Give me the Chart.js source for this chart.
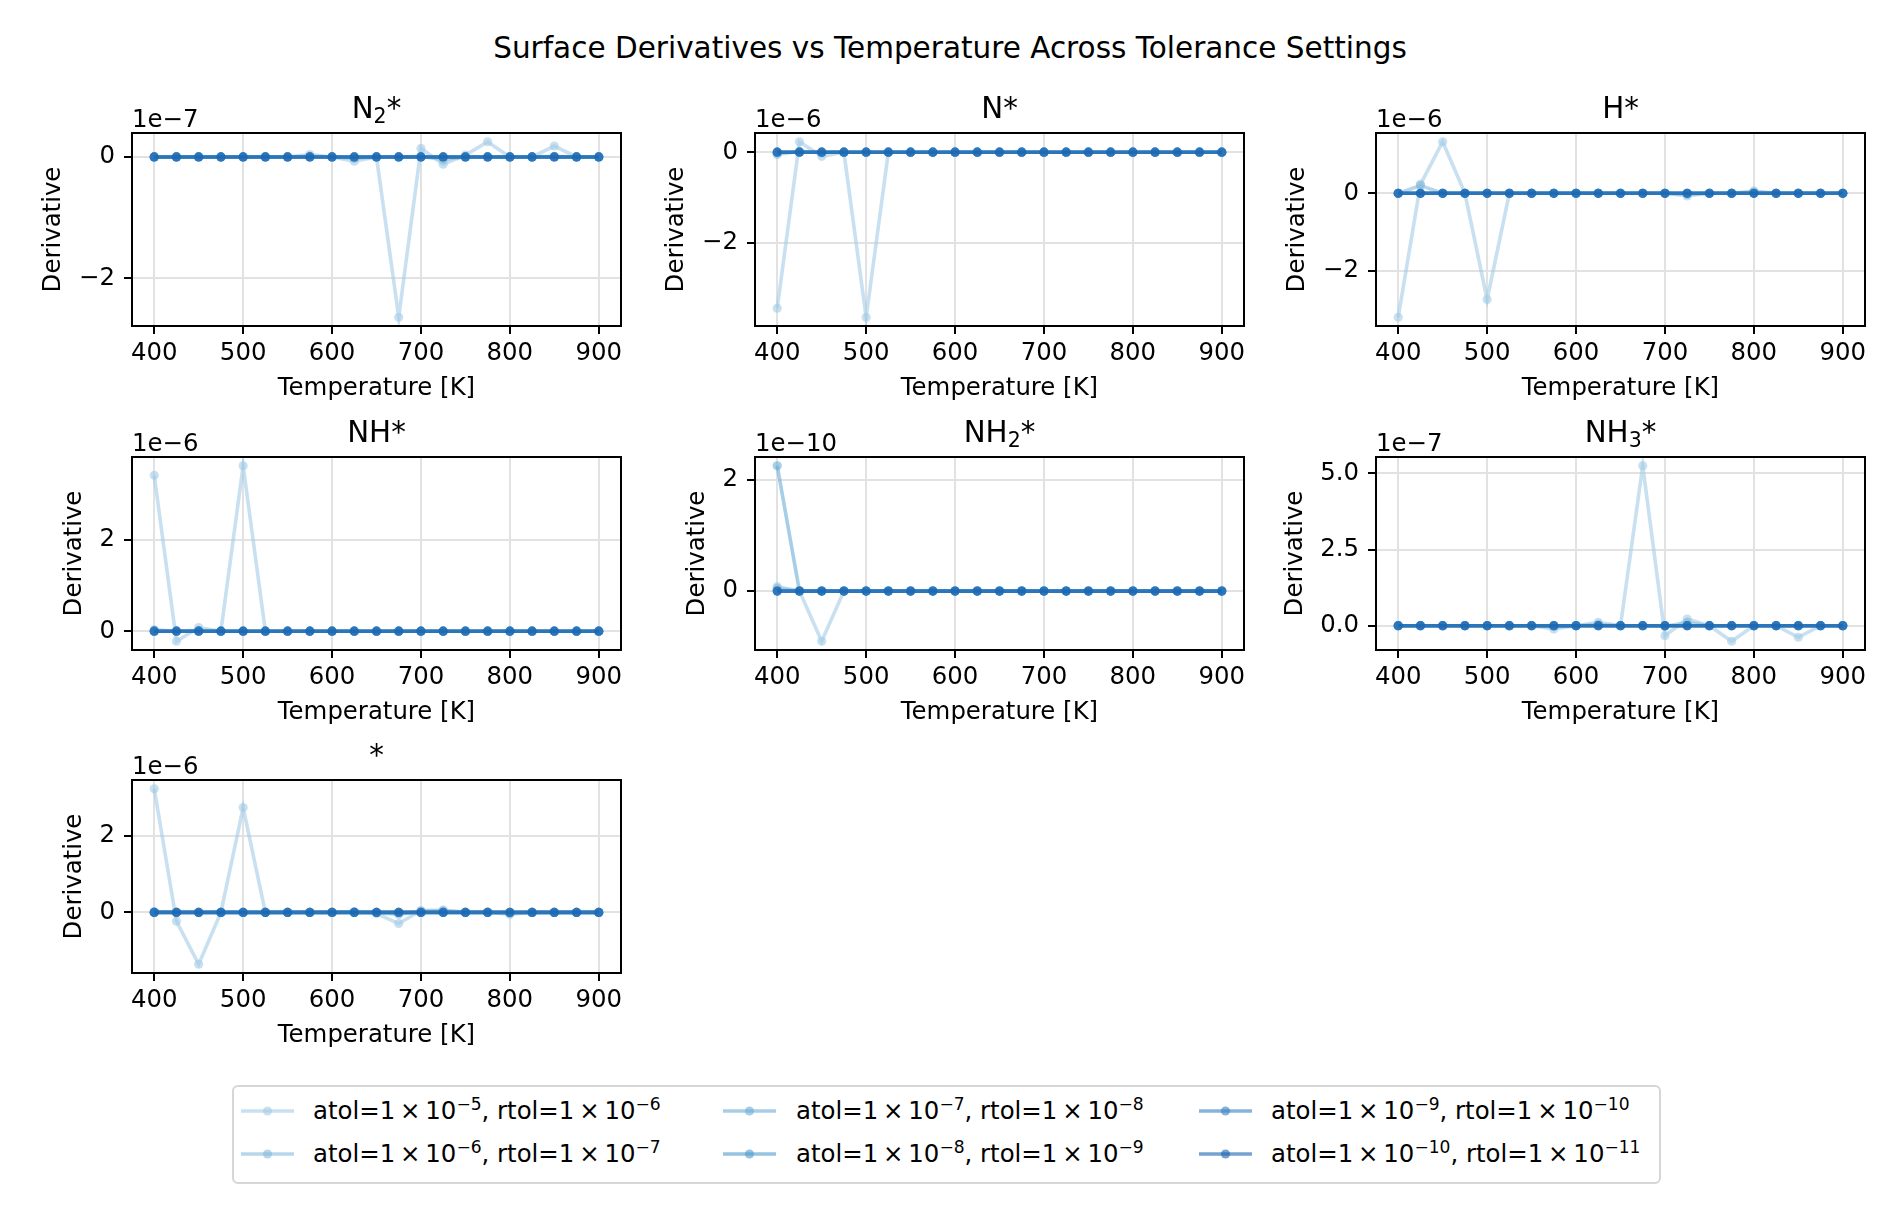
<!DOCTYPE html>
<html>
<head>
<meta charset="utf-8">
<script src="https://cdn.jsdelivr.net/npm/chart.js@4.4.0/dist/chart.umd.min.js"></script>
<style>
  body { margin: 0; background: #fff; width: 1890px; height: 1215px; position: relative; overflow: hidden; font-family: "DejaVu Sans"; }
  canvas { position: absolute; }
  #suptitle { position: absolute; left: 5px; top: 31px; width: 1890px; text-align: center; font-size: 29.5px; line-height: 34px; color: #000; }
  #legend { position: absolute; left: 232px; top: 1085px; width: 1425px; height: 95px; border: 2px solid #d6d6d6; border-radius: 6px; }
  .item { position: absolute; height: 30px; line-height: 30px; font-size: 24.4px; white-space: nowrap; color: #000; }
  .item svg { position: absolute; left: 0; top: 0; }
  .item span { position: absolute; top: 0; }
  sup { font-size: 0.7em; vertical-align: baseline; position: relative; top: -0.55em; line-height: 0; }
</style>
</head>
<body>
<div id="suptitle">Surface Derivatives vs Temperature Across Tolerance Settings</div>
<div id="legend"></div>
<script>
// temperatures [K]
const temps = [400, 425, 450, 475, 500, 525, 550, 575, 600, 625, 650, 675, 700, 725, 750, 775, 800, 825, 850, 875, 900];
const xTicks = [400, 500, 600, 700, 800, 900];

// legend labels, loosest to tightest tolerance
const tolLabels = [
  "atol=1\u2009×\u200910<sup>−5</sup>, rtol=1\u2009×\u200910<sup>−6</sup>",
  "atol=1\u2009×\u200910<sup>−6</sup>, rtol=1\u2009×\u200910<sup>−7</sup>",
  "atol=1\u2009×\u200910<sup>−7</sup>, rtol=1\u2009×\u200910<sup>−8</sup>",
  "atol=1\u2009×\u200910<sup>−8</sup>, rtol=1\u2009×\u200910<sup>−9</sup>",
  "atol=1\u2009×\u200910<sup>−9</sup>, rtol=1\u2009×\u200910<sup>−10</sup>",
  "atol=1\u2009×\u200910<sup>−10</sup>, rtol=1\u2009×\u200910<sup>−11</sup>"
];

// derivative values, in units of each panel's offset (1e-7, 1e-6, ...)
const n2Star = [
  [0, 0, 0, 0, 0, 0, 0, 0.04, 0, -0.07, 0, -2.64, 0.14, -0.12, 0.03, 0.25, 0, 0, 0.18, 0, 0],
  [0, 0, 0, 0, 0, 0, 0, 0.01, 0, -0.02, 0, 0, 0.01, -0.04, 0, 0, 0, 0, 0.01, 0, 0],
  [0, 0, 0, 0, 0, 0, 0, 0, 0, 0, 0, 0, 0, 0, 0, 0, 0, 0, 0, 0, 0],
  [0, 0, 0, 0, 0, 0, 0, 0, 0, 0, 0, 0, 0, 0, 0, 0, 0, 0, 0, 0, 0],
  [0, 0, 0, 0, 0, 0, 0, 0, 0, 0, 0, 0, 0, 0, 0, 0, 0, 0, 0, 0, 0],
  [0, 0, 0, 0, 0, 0, 0, 0, 0, 0, 0, 0, 0, 0, 0, 0, 0, 0, 0, 0, 0]
];
const nStar = [
  [-3.44, 0.23, -0.09, 0, -3.64, 0, 0, 0, 0, 0, 0, 0, 0, 0, 0, 0, 0, 0, 0, 0, 0],
  [-0.05, 0.02, 0, 0, 0, 0, 0, 0, 0, 0, 0, 0, 0, 0, 0, 0, 0, 0, 0, 0, 0],
  [0, 0, 0, 0, 0, 0, 0, 0, 0, 0, 0, 0, 0, 0, 0, 0, 0, 0, 0, 0, 0],
  [0, 0, 0, 0, 0, 0, 0, 0, 0, 0, 0, 0, 0, 0, 0, 0, 0, 0, 0, 0, 0],
  [0, 0, 0, 0, 0, 0, 0, 0, 0, 0, 0, 0, 0, 0, 0, 0, 0, 0, 0, 0, 0],
  [0, 0, 0, 0, 0, 0, 0, 0, 0, 0, 0, 0, 0, 0, 0, 0, 0, 0, 0, 0, 0]
];
const hStar = [
  [-3.2, 0.23, 1.33, 0, -2.74, 0, 0, 0, 0, 0, 0, 0, 0, -0.07, 0, 0, 0.06, 0, 0, 0, 0],
  [0, 0.2, 0, 0, 0, 0, 0, 0, 0, 0, 0, 0, 0, -0.03, 0, 0, 0.03, 0, 0, 0, 0],
  [0, 0, 0, 0, 0, 0, 0, 0, 0, 0, 0, 0, 0, 0, 0, 0, 0, 0, 0, 0, 0],
  [0, 0, 0, 0, 0, 0, 0, 0, 0, 0, 0, 0, 0, 0, 0, 0, 0, 0, 0, 0, 0],
  [0, 0, 0, 0, 0, 0, 0, 0, 0, 0, 0, 0, 0, 0, 0, 0, 0, 0, 0, 0, 0],
  [0, 0, 0, 0, 0, 0, 0, 0, 0, 0, 0, 0, 0, 0, 0, 0, 0, 0, 0, 0, 0]
];
const nhStar = [
  [3.42, -0.22, 0.08, 0, 3.63, 0, 0, 0, 0, 0, 0, 0, 0, 0, 0, 0, 0, 0, 0, 0, 0],
  [0.03, 0, 0.02, 0, 0, 0, 0, 0, 0, 0, 0, 0, 0, 0, 0, 0, 0, 0, 0, 0, 0],
  [0, 0, 0, 0, 0, 0, 0, 0, 0, 0, 0, 0, 0, 0, 0, 0, 0, 0, 0, 0, 0],
  [0, 0, 0, 0, 0, 0, 0, 0, 0, 0, 0, 0, 0, 0, 0, 0, 0, 0, 0, 0, 0],
  [0, 0, 0, 0, 0, 0, 0, 0, 0, 0, 0, 0, 0, 0, 0, 0, 0, 0, 0, 0, 0],
  [0, 0, 0, 0, 0, 0, 0, 0, 0, 0, 0, 0, 0, 0, 0, 0, 0, 0, 0, 0, 0]
];
const nh2Star = [
  [0.08, 0, -0.9, 0, 0, 0, 0, 0, 0, 0, 0, 0, 0, 0, 0, 0, 0, 0, 0, 0, 0],
  [0.05, 0, 0, 0, 0, 0, 0, 0, 0, 0, 0, 0, 0, 0, 0, 0, 0, 0, 0, 0, 0],
  [2.25, 0, 0, 0, 0, 0, 0, 0, 0, 0, 0, 0, 0, 0, 0, 0, 0, 0, 0, 0, 0],
  [0, 0, 0, 0, 0, 0, 0, 0, 0, 0, 0, 0, 0, 0, 0, 0, 0, 0, 0, 0, 0],
  [0, 0, 0, 0, 0, 0, 0, 0, 0, 0, 0, 0, 0, 0, 0, 0, 0, 0, 0, 0, 0],
  [0, 0, 0, 0, 0, 0, 0, 0, 0, 0, 0, 0, 0, 0, 0, 0, 0, 0, 0, 0, 0]
];
const nh3Star = [
  [0, 0, 0, 0, 0, 0, 0, -0.11, 0, 0.11, 0, 5.25, -0.33, 0.22, 0, -0.51, 0, 0, -0.38, 0, 0],
  [0, 0, 0, 0, 0, 0, 0, -0.03, 0, 0.04, 0, 0, -0.02, 0.1, 0, 0, 0, 0, 0, 0, 0],
  [0, 0, 0, 0, 0, 0, 0, 0, 0, 0, 0, 0, 0, 0, 0, 0, 0, 0, 0, 0, 0],
  [0, 0, 0, 0, 0, 0, 0, 0, 0, 0, 0, 0, 0, 0, 0, 0, 0, 0, 0, 0, 0],
  [0, 0, 0, 0, 0, 0, 0, 0, 0, 0, 0, 0, 0, 0, 0, 0, 0, 0, 0, 0, 0],
  [0, 0, 0, 0, 0, 0, 0, 0, 0, 0, 0, 0, 0, 0, 0, 0, 0, 0, 0, 0, 0]
];
const freeSite = [
  [3.22, -0.23, -1.35, 0, 2.73, 0, 0, 0, 0, 0, -0.03, -0.29, 0.05, 0.06, 0, 0, -0.05, 0, 0, 0, 0],
  [0.02, 0, 0, 0, 0, 0, 0, 0, 0, 0.02, 0, -0.05, 0.03, 0.04, 0, 0.01, -0.03, 0, 0, 0, 0],
  [0, 0, 0, 0, 0, 0, 0, 0, 0, 0, 0, 0, 0, 0, 0, 0, 0, 0, 0, 0, 0],
  [0, 0, 0, 0, 0, 0, 0, 0, 0, 0, 0, 0, 0, 0, 0, 0, 0, 0, 0, 0, 0],
  [0, 0, 0, 0, 0, 0, 0, 0, 0, 0, 0, 0, 0, 0, 0, 0, 0, 0, 0, 0, 0],
  [0, 0, 0, 0, 0, 0, 0, 0, 0, 0, 0, 0, 0, 0, 0, 0, 0, 0, 0, 0, 0]
];

const speciesNames = ["N_2*", "N*", "H*", "NH*", "NH_2*", "NH_3*", "*"];
const speciesData = [n2Star, nStar, hStar, nhStar, nh2Star, nh3Star, freeSite];
const offsetLabels = ["1e−7", "1e−6", "1e−6", "1e−6", "1e−10", "1e−7", "1e−6"];
const yTicks = [[-2, 0], [-2, 0], [-2, 0], [0, 2], [0, 2], [0, 2.5, 5], [0, 2]];
const yDecimals = [0, 0, 0, 0, 0, 1, 0];

// styling
const baseColors = [[163, 203, 230], [133, 187, 220], [107, 174, 214], [80, 155, 205], [55, 128, 195], [25, 100, 175]];
const rgba = (c, a) => `rgba(${c[0]},${c[1]},${c[2]},${a})`;
const FONT = '"DejaVu Sans"';
const colLeft = [132, 755, 1376];
const rowTop = [133, 457, 780];
const boxW = 489, boxH = 193;
const PL = 130, PT = 70, PR = 30, PB = 85;

function drawTitle(ctx, name, cx, y) {
  const parts = name.split(/_(\d)/);
  const big = `29.3px ${FONT}`, small = `20.5px ${FONT}`;
  let total = 0;
  parts.forEach((p, i) => { ctx.font = i % 2 ? small : big; total += ctx.measureText(p).width; });
  let x = cx - total / 2;
  ctx.textAlign = "left";
  ctx.textBaseline = "alphabetic";
  parts.forEach((p, i) => {
    ctx.font = i % 2 ? small : big;
    ctx.fillText(p, x, i % 2 ? y + 5 : y);
    x += ctx.measureText(p).width;
  });
}

const decor = {
  id: "decor",
  afterDraw(chart, args, opts) {
    const { ctx, chartArea: a } = chart;
    ctx.save();
    ctx.strokeStyle = "#000";
    ctx.lineWidth = 2;
    ctx.strokeRect(a.left, a.top, a.right - a.left, a.bottom - a.top);
    ctx.fillStyle = "#000";
    drawTitle(ctx, opts.name, (a.left + a.right) / 2, a.top - 15);
    ctx.font = `24.4px ${FONT}`;
    ctx.textAlign = "left";
    ctx.textBaseline = "alphabetic";
    ctx.fillText(opts.offset, a.left, a.top - 6);
    ctx.textAlign = "center";
    ctx.fillText("Temperature [K]", (a.left + a.right) / 2, a.bottom + 69);
    const w = Math.max(...chart.scales.y.ticks.map(t => ctx.measureText(t.label).width));
    ctx.translate(a.left - 17 - w - 25, (a.top + a.bottom) / 2);
    ctx.rotate(-Math.PI / 2);
    ctx.textBaseline = "middle";
    ctx.fillText("Derivative", 0, 0);
    ctx.restore();
  }
};

const fmt = (v, d) => v.toFixed(d).replace("-", "\u2212");

speciesData.forEach((series, k) => {
  const col = k % 3, row = Math.floor(k / 3);
  const canvas = document.createElement("canvas");
  const cw = PL + boxW + PR, ch = PT + boxH + PB;
  canvas.width = cw; canvas.height = ch;
  canvas.style.width = cw + "px"; canvas.style.height = ch + "px";
  canvas.style.left = (colLeft[col] - PL) + "px";
  canvas.style.top = (rowTop[row] - PT) + "px";
  document.body.appendChild(canvas);

  const all = series.flat();
  const lo = Math.min(...all), hi = Math.max(...all);
  const pad = 0.05 * (hi - lo);

  new Chart(canvas.getContext("2d"), {
    type: "line",
    data: {
      datasets: series.map((vals, i) => ({
        data: vals.map((v, j) => ({ x: temps[j], y: v })),
        borderColor: rgba(baseColors[i], 0.6),
        backgroundColor: rgba(baseColors[i], 0.6),
        pointBackgroundColor: rgba(baseColors[i], 0.6),
        pointBorderWidth: 0,
        pointRadius: 4.6,
        borderWidth: 3.6,
        tension: 0,
        fill: false,
        order: 5 - i
      }))
    },
    options: {
      responsive: false,
      animation: false,
      devicePixelRatio: 1,
      layout: { padding: { left: 0, top: PT, right: PR, bottom: 0 } },
      plugins: {
        legend: { display: false },
        tooltip: { enabled: false },
        decor: { name: speciesNames[k], offset: offsetLabels[k] }
      },
      scales: {
        x: {
          type: "linear",
          min: 375,
          max: 925,
          afterBuildTicks: s => { s.ticks = xTicks.map(v => ({ value: v })); },
          afterFit: s => { s.height = PB; },
          border: { display: false },
          grid: { color: "#e2e2e2", lineWidth: 2, drawTicks: true, tickLength: 8, tickColor: "#000", tickWidth: 2 },
          ticks: { font: { family: "DejaVu Sans", size: 24.4 }, color: "#000", padding: 5, maxRotation: 0, autoSkip: false, callback: v => String(v) }
        },
        y: {
          type: "linear",
          min: lo - pad,
          max: hi + pad,
          afterBuildTicks: s => { s.ticks = yTicks[k].map(v => ({ value: v })); },
          afterFit: s => { s.width = PL; },
          border: { display: false },
          grid: { color: "#e2e2e2", lineWidth: 2, drawTicks: true, tickLength: 8, tickColor: "#000", tickWidth: 2 },
          ticks: { font: { family: "DejaVu Sans", size: 24.4 }, color: "#000", padding: 9, autoSkip: false, callback: v => fmt(v, yDecimals[k]) }
        }
      }
    },
    plugins: [decor]
  });
});

// legend: three columns, two rows, filled column by column
const legend = document.getElementById("legend");
const handleX = [6, 488, 964];
const textX = [79, 562, 1037];
const rowY = [9, 52];
tolLabels.forEach((lab, i) => {
  const col = Math.floor(i / 2), row = i % 2;
  const item = document.createElement("div");
  item.className = "item";
  item.style.left = handleX[col] + "px";
  item.style.top = rowY[row] + "px";
  const c = rgba(baseColors[i], 0.6);
  item.innerHTML =
    `<svg width="56" height="30"><line x1="1" y1="15" x2="54" y2="15" stroke="${c}" stroke-width="3.6"/>` +
    `<circle cx="27.5" cy="15" r="4.6" fill="${c}"/></svg>` +
    `<span style="left:${textX[col] - handleX[col]}px">${lab}</span>`;
  legend.appendChild(item);
});
</script>
</body>
</html>
